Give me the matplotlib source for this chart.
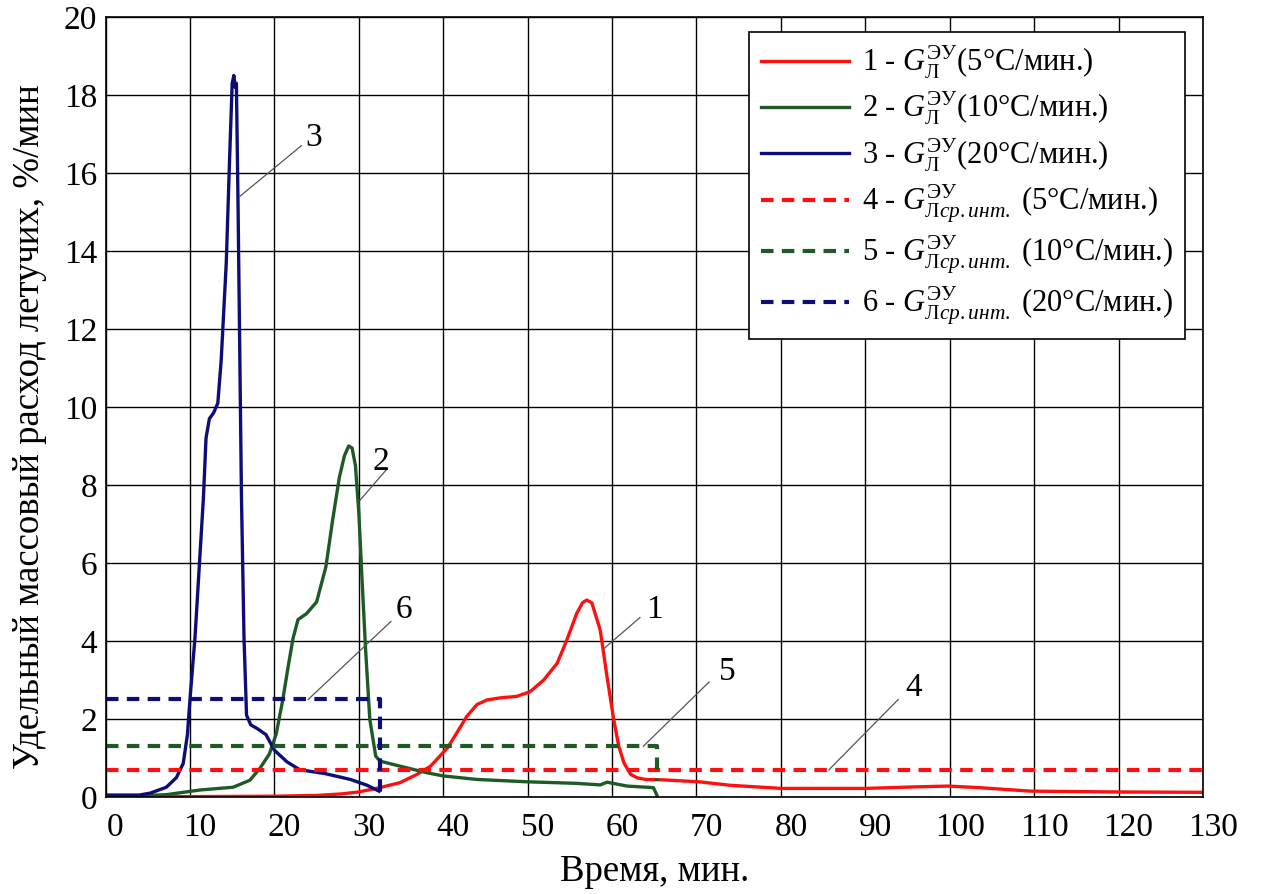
import numpy as np
import matplotlib
matplotlib.use('Agg')
import matplotlib.pyplot as plt
from matplotlib.transforms import ScaledTranslation

plt.rcParams['font.family'] = ['Liberation Serif', 'DejaVu Serif']
plt.rcParams['mathtext.fontset'] = 'custom'
plt.rcParams['mathtext.rm'] = 'Liberation Serif'
plt.rcParams['mathtext.it'] = 'Liberation Serif:italic'

# curve 1 - 5 C/min
x1 = [0, 10, 20, 25, 28, 30, 32.5, 34.9, 36.9, 38.5, 40.5, 41.6, 42.8, 44.0, 45.2, 46.7,
      48.7, 50.3, 51.9, 53.5, 54.6, 55.8, 56.5, 57.0, 57.6, 58.6, 59.4, 60.2, 60.8, 61.4,
      62.2, 63.0, 64.0, 66.0, 70.3, 74.0, 80.1, 90.0, 96.0, 99.8, 103.5, 109.6, 119.5, 130]
y1 = [0.0, 0.01, 0.02, 0.04, 0.08, 0.13, 0.24, 0.37, 0.58, 0.79, 1.26, 1.64, 2.07, 2.37,
      2.49, 2.54, 2.58, 2.7, 3.0, 3.43, 4.0, 4.7, 4.98, 5.05, 4.98, 4.28, 3.09, 1.98, 1.3,
      0.88, 0.58, 0.49, 0.45, 0.44, 0.39, 0.30, 0.22, 0.22, 0.26, 0.28, 0.24, 0.15, 0.13,
      0.12]

# curve 2 - 10 C/min
x2 = [0, 4, 7.2, 11.2, 15.1, 17.1, 18.3, 19.4, 20.2, 21.0, 21.6, 22.2, 22.8, 23.8, 25.0,
      26.1, 26.9, 27.7, 28.3, 28.8, 29.2, 29.6, 30.0, 30.4, 30.8, 31.3, 32.0, 32.5, 34.9,
      38.1, 40.0, 44.0, 49.9, 55.8, 58.6, 59.4, 61.8, 64.9, 65.3]
y2 = [0.02, 0.03, 0.06, 0.18, 0.25, 0.43, 0.74, 1.1, 1.6, 2.5, 3.3, 4.06, 4.55, 4.7, 5.0,
      5.9, 7.1, 8.2, 8.75, 9.0, 8.95, 8.5, 7.3, 5.5, 3.8, 2.0, 1.05, 0.92, 0.79, 0.62, 0.54,
      0.45, 0.39, 0.35, 0.31, 0.38, 0.28, 0.24, 0.05]

# curve 3 - 20 C/min
x3 = [0, 4, 5.3, 7.2, 8.4, 9.2, 9.7, 10.0, 10.6, 11.1, 11.6, 11.9, 12.3, 12.8, 13.3, 13.7,
      14.3, 14.7, 15.0, 15.2, 15.35, 15.5, 15.7, 15.9, 16.1, 16.4, 16.7, 17.2, 18.0, 19.0,
      20.0, 21.5, 23.0, 26.0, 29.0, 31.0, 32.4]
y3 = [0.05, 0.05, 0.1, 0.25, 0.5, 0.86, 1.6, 2.5, 4.1, 5.9, 7.7, 9.2, 9.7, 9.85, 10.1,
      11.2, 13.7, 16.4, 18.3, 18.5, 18.2, 18.3, 15.1, 11.4, 7.7, 4.1, 2.1, 1.85, 1.75, 1.6,
      1.2, 0.9, 0.7, 0.6, 0.45, 0.3, 0.15]

# averaged (integral) levels
x4 = [0, 130]
y4 = [0.7, 0.7]
x5 = [0, 65.3, 65.3]
y5 = [1.3, 1.3, 0.4]
x6 = [0, 32.5, 32.5]
y6 = [2.5, 2.5, 0.0]

labels = [r'1 - $G_{\mathrm{Л}}^{\mathrm{ЭУ}}$(5°C/мин.)',
          r'2 - $G_{\mathrm{Л}}^{\mathrm{ЭУ}}$(10°C/мин.)',
          r'3 - $G_{\mathrm{Л}}^{\mathrm{ЭУ}}$(20°C/мин.)',
          r'4 - $G_{\mathrm{Л}\mathit{ср.инт.}}^{\mathrm{ЭУ}}$ (5°C/мин.)',
          r'5 - $G_{\mathrm{Л}\mathit{ср.инт.}}^{\mathrm{ЭУ}}$ (10°C/мин.)',
          r'6 - $G_{\mathrm{Л}\mathit{ср.инт.}}^{\mathrm{ЭУ}}$ (20°C/мин.)']

# annotation labels: (text, label pos, line start, line end)
notes = [('3', (24.6, 16.9), (23.2, 16.7), (15.9, 15.4)),
         ('2', (32.6, 8.6), (33.3, 8.4), (30.1, 7.6)),
         ('6', (35.4, 4.8), (33.8, 4.5), (24.0, 2.5)),
         ('1', (65.0, 4.8), (63.3, 4.6), (59.0, 3.8)),
         ('5', (73.6, 3.2), (71.5, 2.95), (63.7, 1.3)),
         ('4', (95.7, 2.8), (93.9, 2.5), (85.7, 0.7))]

red = '#ff1010'
green = '#1d5a24'
blue = '#0d0d7a'

fig = plt.figure(figsize=(12.61, 8.94), dpi=100)
ax = fig.add_axes([0.0837, 0.1085, 0.8703, 0.8725])

ax.plot(x1, y1, color=red, lw=2.4, label=labels[0])
ax.plot(x2, y2, color=green, lw=2.4, label=labels[1])
ax.plot(x3, y3, color=blue, lw=2.4, label=labels[2])
ax.plot(x4, y4, color=red, lw=3, ls=(0, (3, 2)), label=labels[3])
ax.plot(x5, y5, color=green, lw=3, ls=(0, (3, 2)), label=labels[4])
ax.plot(x6, y6, color=blue, lw=3, ls=(0, (3, 2)), label=labels[5])

for txt, tpos, p0, p1 in notes:
    ax.plot([p0[0], p1[0]], [p0[1], p1[1]], color='#555555', lw=0.9)
    ax.text(tpos[0], tpos[1], txt, fontsize=24, ha='center', va='center')

ax.set_xlim(0, 130)
ax.set_ylim(0, 20)
ax.set_xticks(np.arange(0, 131, 10))
ax.set_yticks(np.arange(0, 21, 2))
ax.grid(color='black', lw=1)
ax.tick_params(length=0, labelsize=24)
ax.tick_params(axis='x', pad=11)
ax.tick_params(axis='y', pad=6)
for s in ax.spines.values():
    s.set_linewidth(1.2)

# x tick labels sit a little right of the grid lines
shift = ScaledTranslation(10 / 100, 0, fig.dpi_scale_trans)
for lab in ax.get_xticklabels():
    lab.set_transform(lab.get_transform() + shift)

fig.text(655 / 1261, 1 - 872 / 894, 'Время, мин.', fontsize=26.5, ha='center', va='center')
fig.text(30 / 1261, 1 - 427 / 894, 'Удельный массовый расход летучих, %/мин', fontsize=26.5,
         ha='center', va='center', rotation=90)

leg = ax.legend(loc='upper right', bbox_to_anchor=(0.9836, 0.9808), fontsize=22,
                fancybox=False, framealpha=1, edgecolor='black', handlelength=2.9,
                handletextpad=0.4, labelspacing=0.29, borderpad=0.4, borderaxespad=0)
leg.get_frame().set_linewidth(1.2)

plt.savefig('out.png', dpi=100)
